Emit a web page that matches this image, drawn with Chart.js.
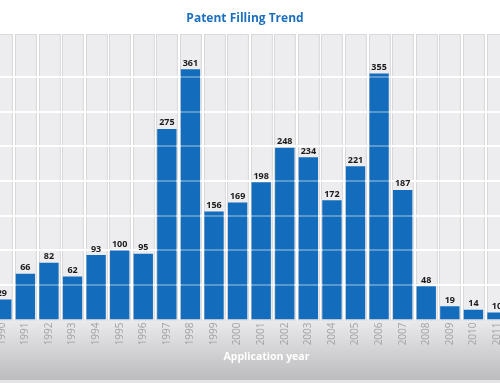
<!DOCTYPE html>
<html>
<head>
<meta charset="utf-8">
<script src="https://cdn.jsdelivr.net/npm/chart.js@4/dist/chart.umd.min.js"></script>
<style>
  html, body { margin: 0; padding: 0; background: #ffffff; overflow: hidden; }
  #wrap { position: relative; width: 500px; height: 383px; overflow: hidden; }
  #c { position: absolute; left: -10px; top: 0; }
</style>
</head>
<body>
<div id="wrap"><canvas id="c" width="522" height="383"></canvas></div>
<script>
// ---- data ----
const years = ['1990','1991','1992','1993','1994','1995','1996','1997','1998','1999','2000',
               '2001','2002','2003','2004','2005','2006','2007','2008','2009','2010','2011'];
const filings = [29, 66, 82, 62, 93, 100, 95, 275, 361, 156, 169,
                 198, 248, 234, 172, 221, 355, 187, 48, 19, 14, 10];
const gridValues = [50, 100, 150, 200, 250, 300, 350];
const chartTitle = 'Patent Filling Trend';
const axisTitle = 'Application year';

const BLUE = '#146cbc';

const decor = {
  id: 'decor',
  beforeDraw(chart) {
    const { ctx, chartArea, scales } = chart;
    const meta = chart.getDatasetMeta(0);
    // bottom gradient band
    const g = ctx.createLinearGradient(0, chartArea.bottom, 0, 380);
    g.addColorStop(0, '#ebebed');
    g.addColorStop(1, '#bcbcbe');
    ctx.save();
    ctx.fillStyle = g;
    ctx.fillRect(0, chartArea.bottom, chart.width, 380 - chartArea.bottom);
    ctx.fillStyle = '#e4e4e6';
    ctx.fillRect(0, 380, chart.width, chart.height - 380);
    // column backgrounds
    const pitch = scales.x.width / years.length;
    const w = pitch * 0.885;
    meta.data.forEach(bar => {
      const x0 = Math.round(bar.x - w / 2) + 0.5;
      ctx.fillStyle = '#ededef';
      ctx.fillRect(x0, chartArea.top, w, chartArea.bottom - chartArea.top);
      ctx.strokeStyle = '#d8d8da';
      ctx.lineWidth = 1;
      ctx.strokeRect(x0, chartArea.top + 0.5, w, chartArea.bottom - chartArea.top);
    });
    ctx.restore();
  },
  afterDatasetsDraw(chart) {
    const { ctx, chartArea, scales } = chart;
    ctx.save();
    // faint grid lines across bars
    ctx.strokeStyle = 'rgba(255,255,255,0.3)';
    ctx.lineWidth = 2;
    gridValues.forEach(v => {
      const y = Math.round(scales.y.getPixelForValue(v));
      ctx.beginPath();
      ctx.moveTo(chartArea.left, y);
      ctx.lineTo(chartArea.right, y);
      ctx.stroke();
    });
    // value labels
    const meta = chart.getDatasetMeta(0);
    ctx.fillStyle = '#1a1a1a';
    ctx.font = 'bold 9px "Open Sans", sans-serif';
    ctx.textAlign = 'center';
    ctx.textBaseline = 'bottom';
    meta.data.forEach((bar, i) => {
      ctx.fillText(String(filings[i]), bar.x, bar.y - 1.5);
    });
    // titles
    ctx.fillStyle = '#1d6fbf';
    ctx.font = 'bold 12px "Open Sans", sans-serif';
    ctx.textBaseline = 'middle';
    ctx.fillText(chartTitle, 255, 19);
    ctx.fillStyle = '#ffffff';
    ctx.font = 'bold 10.5px "Open Sans", sans-serif';
    ctx.fillText(axisTitle, 276.5, 357);
    ctx.restore();
  }
};

new Chart(document.getElementById('c'), {
  type: 'bar',
  data: {
    labels: years,
    datasets: [{
      data: filings,
      backgroundColor: BLUE,
      borderWidth: 0,
      barPercentage: 0.82,
      categoryPercentage: 1.0
    }]
  },
  options: {
    responsive: false,
    animation: false,
    devicePixelRatio: 1,
    layout: { padding: { top: 34, left: 0, right: 0, bottom: 0 } },
    plugins: { legend: { display: false }, tooltip: { enabled: false }, title: { display: false } },
    scales: {
      x: {
        offset: true,
        grid: { display: false, drawTicks: false },
        border: { display: false },
        ticks: {
          autoSkip: false, minRotation: 90, maxRotation: 90,
          color: '#a3a3a5', padding: 3,
          font: { family: '"Open Sans", sans-serif', size: 10 }
        },
        afterFit(scale) { scale.height = 63.5; }
      },
      y: {
        min: 0, max: 412,
        afterBuildTicks(scale) { scale.ticks = gridValues.map(v => ({ value: v })); },
        grid: { color: '#ffffff', lineWidth: 2, drawTicks: false },
        border: { display: false },
        ticks: { display: false },
        afterFit(scale) { scale.width = 0; }
      }
    }
  },
  plugins: [decor]
});
</script>
</body>
</html>
